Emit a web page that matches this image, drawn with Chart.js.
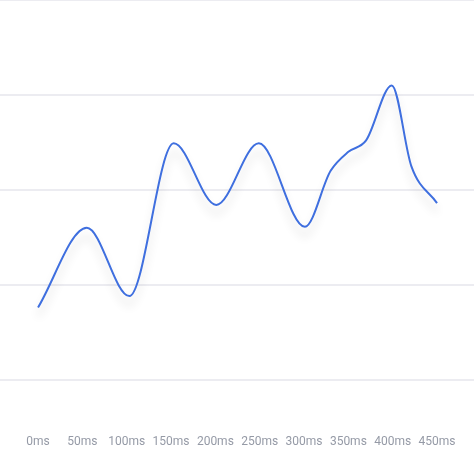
<!DOCTYPE html>
<html>
<head>
<meta charset="utf-8">
<script src="https://cdn.jsdelivr.net/npm/chart.js@4"></script>
<style>
html,body{margin:0;padding:0;background:#fff;}
#wrap{width:474px;height:467px;position:relative;}
</style>
</head>
<body>
<div id="wrap"><canvas id="c"></canvas></div>
<script>
const times  = [0, 55, 103, 153, 201, 249, 301, 330, 350, 370, 399, 421, 450];
const values = [76, 160, 88, 249, 184, 249, 161, 220, 240, 252, 310, 225, 186];
const tickValues = [0, 50, 100, 150, 200, 250, 300, 350, 400, 450];
const tickLabels = ['0ms','50ms','100ms','150ms','200ms','250ms','300ms','350ms','400ms','450ms'];
const yTicks = [0, 100, 200, 300, 400];

const shadowPlugin = {
  id: 'lineShadow',
  beforeDatasetDraw(chart) {
    const ctx = chart.ctx;
    ctx.save();
    ctx.shadowColor = 'rgba(0,0,0,0.16)';
    ctx.shadowBlur = 10;
    ctx.shadowOffsetX = 0;
    ctx.shadowOffsetY = 9;
  },
  afterDatasetDraw(chart) {
    chart.ctx.restore();
  }
};

new Chart(document.getElementById('c'), {
  type: 'line',
  data: {
    datasets: [{
      data: times.map((t, i) => ({x: t, y: values[i]})),
      borderColor: '#3f6fdf',
      borderWidth: 2,
      cubicInterpolationMode: 'monotone',
      pointRadius: 0,
      fill: false
    }]
  },
  options: {
    responsive: true,
    maintainAspectRatio: false,
    animation: false,
    layout: {padding: {left: 0, right: 0, top: 0, bottom: 18}},
    plugins: {legend: {display: false}, tooltip: {enabled: false}},
    scales: {
      x: {
        type: 'linear',
        min: -42.9,
        max: 491.7,
        grid: {display: false, drawTicks: true, tickLength: 55},
        border: {display: false},
        afterBuildTicks(scale) { scale.ticks = tickValues.map(v => ({value: v})); },
        ticks: {
          padding: 0,
          color: '#959aa6',
          font: {family: 'Roboto', size: 12},
          maxRotation: 0,
          autoSkip: false,
          callback: (v) => tickLabels[tickValues.indexOf(v)]
        }
      },
      y: {
        min: yTicks[0],
        max: yTicks[yTicks.length - 1],
        afterBuildTicks(scale) { scale.ticks = yTicks.map(v => ({value: v})); },
        grid: {color: '#ececf1', lineWidth: 2, drawTicks: false},
        border: {display: false},
        ticks: {display: false}
      }
    }
  },
  plugins: [shadowPlugin]
});
</script>
</body>
</html>
